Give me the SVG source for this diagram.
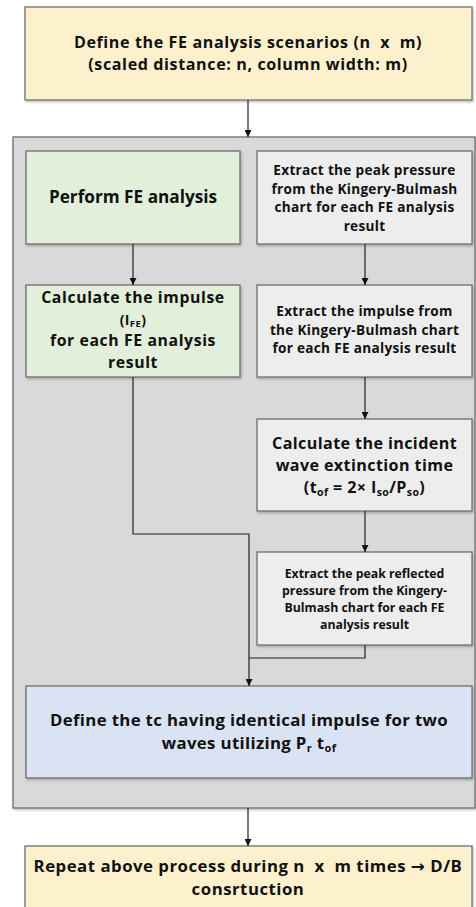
<svg xmlns="http://www.w3.org/2000/svg" width="476" height="907" viewBox="0 0 476 907">
<style>
.box{stroke:#6f6f6f;stroke-width:1.3;filter:url(#sh)}
.y{fill:#fdf1cd}.g{fill:#e2efda}.w{fill:#ededed}.b{fill:#dae3f3}
.t{font-family:"Open Sans","Noto Sans","DejaVu Sans",sans-serif;font-weight:bold;fill:#111;text-anchor:middle;white-space:pre}
.c{fill:none;stroke:#222;stroke-width:1.2}
</style>
<defs>
<filter id="sh" x="-5%" y="-5%" width="110%" height="115%"><feDropShadow dx="1" dy="1.5" stdDeviation="1" flood-color="#000" flood-opacity="0.25"/></filter>
<marker id="ah" viewBox="0 0 10 10" refX="10" refY="5" markerWidth="7" markerHeight="7" markerUnits="userSpaceOnUse" orient="auto"><path d="M0,0 L10,5 L0,10 z" fill="#111"/></marker>
</defs>
<g id="container"><rect class="box" x="13" y="137" width="462" height="671" fill="#d9d9d9"/></g>
<g id="n1"><rect class="box y" x="25" y="7" width="447" height="93"/>
<text class="t" font-size="16.1" letter-spacing="0.6" x="248" y="48">Define the FE analysis scenarios (n  x  m)</text>
<text class="t" font-size="16.1" letter-spacing="0.6" x="248" y="70">(scaled distance: n, column width: m)</text></g>
<g id="n2"><rect class="box g" x="26" y="151" width="214" height="93"/>
<text class="t" font-size="17.2" x="133" y="203">Perform FE analysis</text></g>
<g id="n3"><rect class="box w" x="257" y="151" width="215" height="93"/>
<text class="t" font-size="13.6" letter-spacing="0.3" x="364.5" y="175">Extract the peak pressure</text>
<text class="t" font-size="13.6" letter-spacing="0.3" x="364.5" y="193.5">from the Kingery-Bulmash</text>
<text class="t" font-size="13.6" letter-spacing="0.3" x="364.5" y="212">chart for each FE analysis</text>
<text class="t" font-size="13.6" letter-spacing="0.3" x="364.5" y="230.5">result</text></g>
<g id="n4"><rect class="box g" x="26" y="285" width="214" height="92"/>
<text class="t" font-size="15.8" letter-spacing="0.6" x="133" y="303">Calculate the impulse</text>
<text class="t" font-size="14" letter-spacing="0.4" x="133" y="324.5">(I<tspan font-size="9.5" dy="2">FE</tspan><tspan dy="-2">)</tspan></text>
<text class="t" font-size="15.8" letter-spacing="0.6" x="133" y="346">for each FE analysis</text>
<text class="t" font-size="15.8" letter-spacing="0.6" x="133" y="367.5">result</text></g>
<g id="n5"><rect class="box w" x="257" y="285" width="215" height="92"/>
<text class="t" font-size="13.6" letter-spacing="0.3" x="364.5" y="316">Extract the impulse from</text>
<text class="t" font-size="13.6" letter-spacing="0.3" x="364.5" y="334.5">the Kingery-Bulmash chart</text>
<text class="t" font-size="13.6" letter-spacing="0.3" x="364.5" y="353">for each FE analysis result</text></g>
<g id="n6"><rect class="box w" x="257" y="419" width="215" height="92"/>
<text class="t" font-size="16.1" letter-spacing="0.4" x="364.5" y="449">Calculate the incident</text>
<text class="t" font-size="16.1" letter-spacing="0.4" x="364.5" y="471">wave extinction time</text>
<text class="t" font-size="16.1" letter-spacing="0.4" x="364.5" y="493">(t<tspan font-size="10.5" dy="3">of</tspan><tspan dy="-3"> = 2× I</tspan><tspan font-size="10.5" dy="3">so</tspan><tspan dy="-3">/P</tspan><tspan font-size="10.5" dy="3">so</tspan><tspan dy="-3">)</tspan></text></g>
<g id="n7"><rect class="box w" x="257" y="552" width="215" height="93"/>
<text class="t" font-size="12.3" x="364.5" y="578">Extract the peak reflected</text>
<text class="t" font-size="12.3" x="364.5" y="595">pressure from the Kingery-</text>
<text class="t" font-size="12.3" x="364.5" y="612">Bulmash chart for each FE</text>
<text class="t" font-size="12.3" x="364.5" y="629">analysis result</text></g>
<g id="n8"><rect class="box b" x="26" y="686" width="446" height="92"/>
<text class="t" font-size="16.8" letter-spacing="0.35" x="249" y="726">Define the tc having identical impulse for two</text>
<text class="t" font-size="16.8" letter-spacing="0.35" x="249" y="749">waves utilizing P<tspan font-size="11" dy="3">r</tspan><tspan dy="-3"> t</tspan><tspan font-size="11" dy="3">of</tspan></text></g>
<g id="n9"><rect class="box y" x="25" y="846" width="447" height="70"/>
<text class="t" font-size="16.8" letter-spacing="0.5" x="248" y="872">Repeat above process during n  x  m times → D/B</text>
<text class="t" font-size="16.8" letter-spacing="0.5" x="248" y="895">consrtuction</text></g>
<g id="connectors">
<path class="c" d="M248,100 V137" marker-end="url(#ah)"/>
<path class="c" d="M133,244 V285" marker-end="url(#ah)"/>
<path class="c" d="M365,244 V285" marker-end="url(#ah)"/>
<path class="c" d="M365,377 V419" marker-end="url(#ah)"/>
<path class="c" d="M365,511 V552" marker-end="url(#ah)"/>
<path class="c" d="M133,377 V534 H249 V686" marker-end="url(#ah)"/>
<path class="c" d="M365,645 V658 H249"/>
<path class="c" d="M248,808 V846" marker-end="url(#ah)"/>
</g>
</svg>
